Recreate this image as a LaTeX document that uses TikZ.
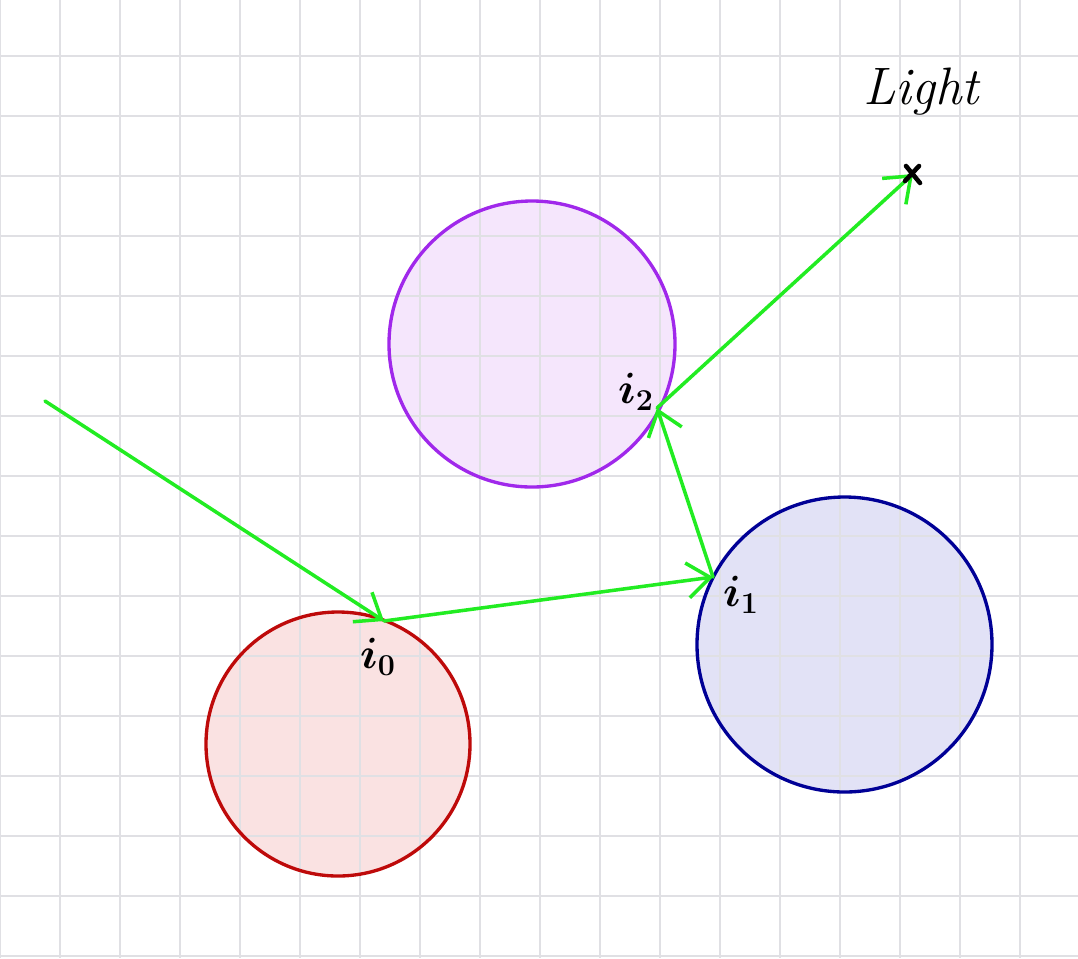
\documentclass[tikz,border=0pt]{standalone}
\usetikzlibrary{arrows.meta}
\definecolor{gridgray}{RGB}{224,224,228}
\definecolor{raygreen}{RGB}{34,236,34}
\definecolor{redline}{RGB}{190,10,10}
\definecolor{redfill}{RGB}{250,226,226}
\definecolor{purpleline}{RGB}{160,40,235}
\definecolor{purplefill}{RGB}{245,230,252}
\definecolor{blueline}{RGB}{0,0,150}
\definecolor{bluefill}{RGB}{226,226,246}
\tikzset{
  gridline/.style={draw=gridgray, line width=1.2pt},
  sphere/.style={line width=1.9pt},
  ray/.style={draw=raygreen, line width=2pt, line cap=round, line join=round,
    -{Straight Barb[length=13pt,width=20pt,line width=2pt]}},
  hand/.style={text=black, inner sep=0pt},
  lightmark/.style={draw=black, line width=2.6pt, line cap=round}
}
\begin{document}
\begin{tikzpicture}[x=0.02cm,y=-0.02cm]
\useasboundingbox (0,0) rectangle (1078,958);
\fill[white] (0,0) rectangle (1078,958);
% sphere fills
\fill[redfill] (338,744) circle (132);
\fill[purplefill] (532,344) circle (143);
\fill[bluefill] (844.5,644.5) circle (147.5);
% grid
\foreach \x in {0,60,...,1020} \draw[gridline] (\x,0) -- (\x,958);
\foreach \y in {56,116,...,956} \draw[gridline] (0,\y) -- (1078,\y);
% sphere outlines
\draw[sphere, draw=redline] (338,744) circle (132);
\draw[sphere, draw=purpleline] (532,344) circle (143);
\draw[sphere, draw=blueline] (844.5,644.5) circle (147.5);
% points
\coordinate (start) at (45,401);
\coordinate (i0) at (384,621);
\coordinate (i1) at (713,577);
\coordinate (i2) at (657,408);
\coordinate (light) at (913,174);
% rays
\draw[ray] (start) -- (i0);
\draw[ray] (i0) -- (i1);
\draw[ray] (i1) -- (i2);
\draw[ray] (i2) -- (light);
% light marker
\draw[lightmark] (906,166) -- (920,183);
\draw[lightmark] (919,166) -- (905,181);
% labels
\node[hand, font=\fontsize{30}{32}\selectfont] (lightlabel) at (921,92) {\itshape Light};
\node[hand, font=\fontsize{24}{26}\selectfont\boldmath] (l2) at (636,392) {$i_2$};
\node[hand, font=\fontsize{24}{26}\selectfont\boldmath] (l1) at (741,595) {$i_1$};
\node[hand, font=\fontsize{24}{26}\selectfont\boldmath] (l0) at (378,657) {$i_0$};
\end{tikzpicture}
\end{document}
